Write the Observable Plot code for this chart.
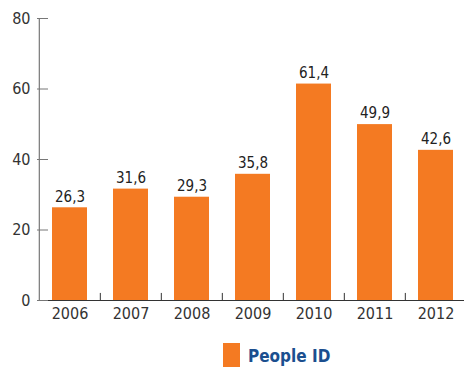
<!DOCTYPE html>
<html>
<head>
<meta charset="utf-8">
<script src="https://cdn.jsdelivr.net/npm/d3@7"></script>
<script src="https://cdn.jsdelivr.net/npm/@observablehq/plot@0.6"></script>
<style>
  body { margin: 0; background: #fff; font-family: "DejaVu Sans Condensed", "DejaVu Sans", sans-serif; }
  #legend { display: flex; align-items: flex-start; margin-left: 223px; margin-top: 13px; height: 24px; }
  #legend .sw { width: 17px; height: 24px; background: #F47A22; }
  #legend .lb { margin-left: 8px; margin-top: 5px; color: #1B4F8F; font-weight: bold; font-size: 17px; line-height: 17px; }
</style>
</head>
<body>
<div id="chart"></div>
<div id="legend"><div class="sw"></div><div class="lb">People ID</div></div>
<script>
const years = ["2006", "2007", "2008", "2009", "2010", "2011", "2012"];
const values = [26.3, 31.6, 29.3, 35.8, 61.4, 49.9, 42.6];
const yTicks = [0, 20, 40, 60, 80];
const seriesName = "People ID";

const data = years.map((y, i) => ({year: y, value: values[i]}));
const width = 464, marginLeft = 37, marginRight = 0;
const xRange = [37.5, 467];
const step = (xRange[1] - xRange[0]) / years.length;
const fmt = v => v.toFixed(1).replace(".", ",");

const chart = Plot.plot({
  width,
  height: 330,
  marginLeft,
  marginRight,
  marginTop: 18,
  marginBottom: 30,
  style: {fontFamily: '"DejaVu Sans Condensed", "DejaVu Sans", sans-serif', fontSize: "16px", color: "#333"},
  x: {domain: years, range: xRange, paddingInner: 0.43, paddingOuter: 0.215, label: null},
  y: {domain: [0, 80], label: null},
  marks: [
    Plot.barY(data, {x: "year", y: "value", fill: "#F47A22"}),
    Plot.text(data, {x: "year", y: "value", text: d => fmt(d.value), dy: -11, fontSize: 15, fill: "#222"}),
    Plot.ruleY([0], {stroke: "#333", strokeWidth: 1.2}),
    Plot.ruleX([years[0]], {dx: -step / 2, y1: 0, y2: 80, stroke: "#777", strokeWidth: 1.2}),
    Plot.ruleX(years.slice(1), {dx: -step / 2, y1: 0, y2: 2, stroke: "#333"}),
    Plot.axisY(yTicks, {tickSize: -11, tickPadding: 18, stroke: "#777", fill: "#333", fontSize: 16, label: null}),
    Plot.axisX({tickSize: 0, tickPadding: 7, fill: "#333", fontSize: 16, label: null})
  ]
});
document.getElementById("chart").append(chart);
</script>
</body>
</html>
